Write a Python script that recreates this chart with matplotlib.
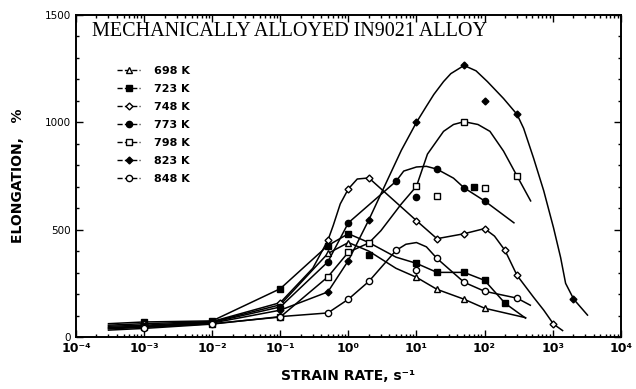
import numpy as np
import matplotlib.pyplot as plt
from matplotlib.lines import Line2D

temps = ["698 K", "723 K", "748 K", "773 K", "798 K", "823 K", "848 K"]
marks = ["^", "s", "D", "o", "s", "D", "o"]
filled = [False, True, False, True, False, True, False]
msizes = [4.5, 4.5, 3.5, 4.5, 4.5, 3.5, 4.5]

# measured points (strain rate s^-1, elongation %)
rate_698 = [1e-3, 1e-2, 0.1, 0.5, 1, 10, 20, 50, 100]
el_698 = [55, 70, 150, 389, 440, 278, 222, 176, 134]
rate_723 = [1e-3, 1e-2, 0.1, 0.5, 1, 10, 20, 50, 100, 200]
el_723 = [70, 75, 225, 426, 481, 343, 301, 301, 264, 157]
rate_748 = [1e-3, 1e-2, 0.1, 0.5, 1, 2, 10, 20, 50, 100, 200, 300, 1000]
el_748 = [62, 72, 160, 450, 690, 741, 542, 458, 481, 505, 403, 287, 60]
rate_773 = [1e-3, 1e-2, 0.1, 0.5, 1, 5, 20, 50, 100]
el_773 = [50, 68, 140, 350, 532, 725, 782, 695, 634]
rate_798 = [1e-3, 1e-2, 0.1, 0.5, 1, 2, 10, 50, 300]
el_798 = [45, 62, 93, 280, 395, 438, 702, 1003, 750]
rate_823 = [1e-3, 1e-2, 0.1, 0.5, 1, 2, 10, 50, 100, 300, 2000]
el_823 = [48, 65, 125, 210, 356, 546, 1000, 1265, 1100, 1037, 176]
rate_848 = [1e-3, 1e-2, 0.1, 0.5, 1, 2, 5, 20, 50, 100, 300]
el_848 = [40, 60, 95, 112, 176, 259, 403, 366, 255, 213, 181]

# hand-drawn fit curves
crate_698 = [3e-4, 1e-3, 1e-2, 0.1, 0.5, 1, 2, 5, 10, 20, 50, 100, 400]
cel_698 = [50, 55, 70, 150, 389, 440, 400, 320, 278, 222, 176, 134, 90]
crate_723 = [3e-4, 1e-3, 1e-2, 0.1, 0.5, 1, 2, 5, 10, 20, 50, 100, 200, 400]
cel_723 = [62, 70, 75, 225, 426, 481, 440, 372, 343, 301, 301, 264, 157, 88]
crate_748 = [3e-4, 1e-3, 1e-2, 0.1, 0.3, 0.5, 0.6, 0.76, 1, 1.35, 2, 10, 20,
             50, 100, 140, 200, 300, 525, 740, 1030, 1400]
cel_748 = [55, 62, 72, 160, 320, 450, 520, 620, 690, 736, 741, 542, 458,
           481, 505, 470, 403, 287, 185, 125, 60, 30]
crate_773 = [3e-4, 1e-3, 1e-2, 0.1, 0.5, 1, 5, 6.5, 10, 14, 20, 35, 50, 100,
             270]
cel_773 = [45, 50, 68, 140, 350, 532, 725, 773, 792, 795, 782, 740, 695, 634,
           532]
crate_798 = [3e-4, 1e-3, 1e-2, 0.1, 0.5, 1, 2, 3, 6, 10, 14.5, 25, 35, 50,
             80, 120, 190, 300, 475]
cel_798 = [38, 45, 62, 93, 280, 395, 438, 495, 620, 702, 852, 958, 990, 1003,
           990, 958, 866, 750, 634]
crate_823 = [3e-4, 1e-3, 1e-2, 0.1, 0.5, 1, 2, 6, 10, 14, 18, 25, 32, 50, 75,
             110, 190, 300, 375, 525, 740, 1030, 1310, 1550, 2040, 3250]
cel_823 = [42, 48, 65, 125, 210, 356, 546, 870, 1000, 1075, 1130, 1190, 1227,
           1265, 1240, 1190, 1111, 1037, 972, 833, 681, 509, 370, 250, 176, 102]
crate_848 = [3e-4, 1e-3, 1e-2, 0.1, 0.5, 1, 2, 5, 7, 10, 14, 20, 50, 100,
             300, 470]
cel_848 = [32, 40, 60, 95, 112, 176, 259, 403, 432, 440, 420, 366, 255, 213,
           181, 148]

# scattered points not on the fitted curves
extra_rate = [10, 20, 70, 100, 10, 2]
extra_el = [653, 657, 700, 695, 310, 380]
extra_mark = ["o", "s", "s", "s", "o", "s"]
extra_fill = [True, False, True, False, False, True]

points = [(rate_698, el_698), (rate_723, el_723), (rate_748, el_748),
          (rate_773, el_773), (rate_798, el_798), (rate_823, el_823),
          (rate_848, el_848)]
curves = [(crate_698, cel_698), (crate_723, cel_723), (crate_748, cel_748),
          (crate_773, cel_773), (crate_798, cel_798), (crate_823, cel_823),
          (crate_848, cel_848)]

xticks = [1e-4, 1e-3, 1e-2, 1e-1, 1, 10, 100, 1000, 1e4]
xlabels = ["10⁻⁴", "10⁻³", "10⁻²", "10⁻¹", "10⁰", "10¹", "10²", "10³", "10⁴"]
yticks = [0, 500, 1000, 1500]

fig = plt.figure(figsize=(6.36, 3.89), dpi=100)
ax = fig.add_axes([0.1195, 0.1337, 0.8565, 0.8277])

for (cx, cy) in curves:
    ax.plot(cx, cy, color="black", lw=1.1, zorder=2)

for i, (px, py) in enumerate(points):
    ax.plot(px, py, ls="none", marker=marks[i], ms=msizes[i],
            mfc="black" if filled[i] else "white", mec="black", mew=1.0,
            zorder=3)

for i in range(len(extra_rate)):
    ax.plot(extra_rate[i], extra_el[i], ls="none", marker=extra_mark[i], ms=4.5,
            mfc="black" if extra_fill[i] else "white", mec="black", mew=1.0,
            zorder=3)

ax.set_xscale("log")
ax.set_xlim(1e-4, 1e4)
ax.set_ylim(0, 1500)
ax.set_xticks(xticks)
ax.set_xticklabels(xlabels, fontsize=9, fontweight="bold")
ax.set_yticks(yticks)
ax.set_yticklabels([str(v) for v in yticks], fontsize=7.5)
ax.set_yticks(np.arange(0, 1501, 100), minor=True)
ax.tick_params(which="both", direction="in", top=True, right=True, width=1.0)
ax.tick_params(which="major", length=5)
ax.tick_params(which="minor", length=2.5)
for s in ax.spines.values():
    s.set_linewidth(1.4)

ax.text(0.029, 0.95, "MECHANICALLY ALLOYED IN9021 ALLOY", transform=ax.transAxes,
        fontsize=14.5, family="Liberation Serif", va="center", ha="left")

handles = [Line2D([], [], color="black", ls="--", lw=1.0, marker=marks[i],
                  ms=msizes[i], mfc="black" if filled[i] else "white",
                  mec="black") for i in range(len(temps))]
ax.legend(handles, temps, loc="upper left", bbox_to_anchor=(0.075, 0.842),
          frameon=False, prop={"weight": "bold", "size": 8},
          handlelength=2.1, handletextpad=1.2, labelspacing=0.72,
          borderpad=0, borderaxespad=0)

ax.set_xlabel("STRAIN RATE, s⁻¹", fontsize=10, fontweight="bold", labelpad=10)
ax.set_ylabel("ELONGATION,   %", fontsize=10, fontweight="bold", labelpad=14)

fig.savefig("out.png", dpi=100)
